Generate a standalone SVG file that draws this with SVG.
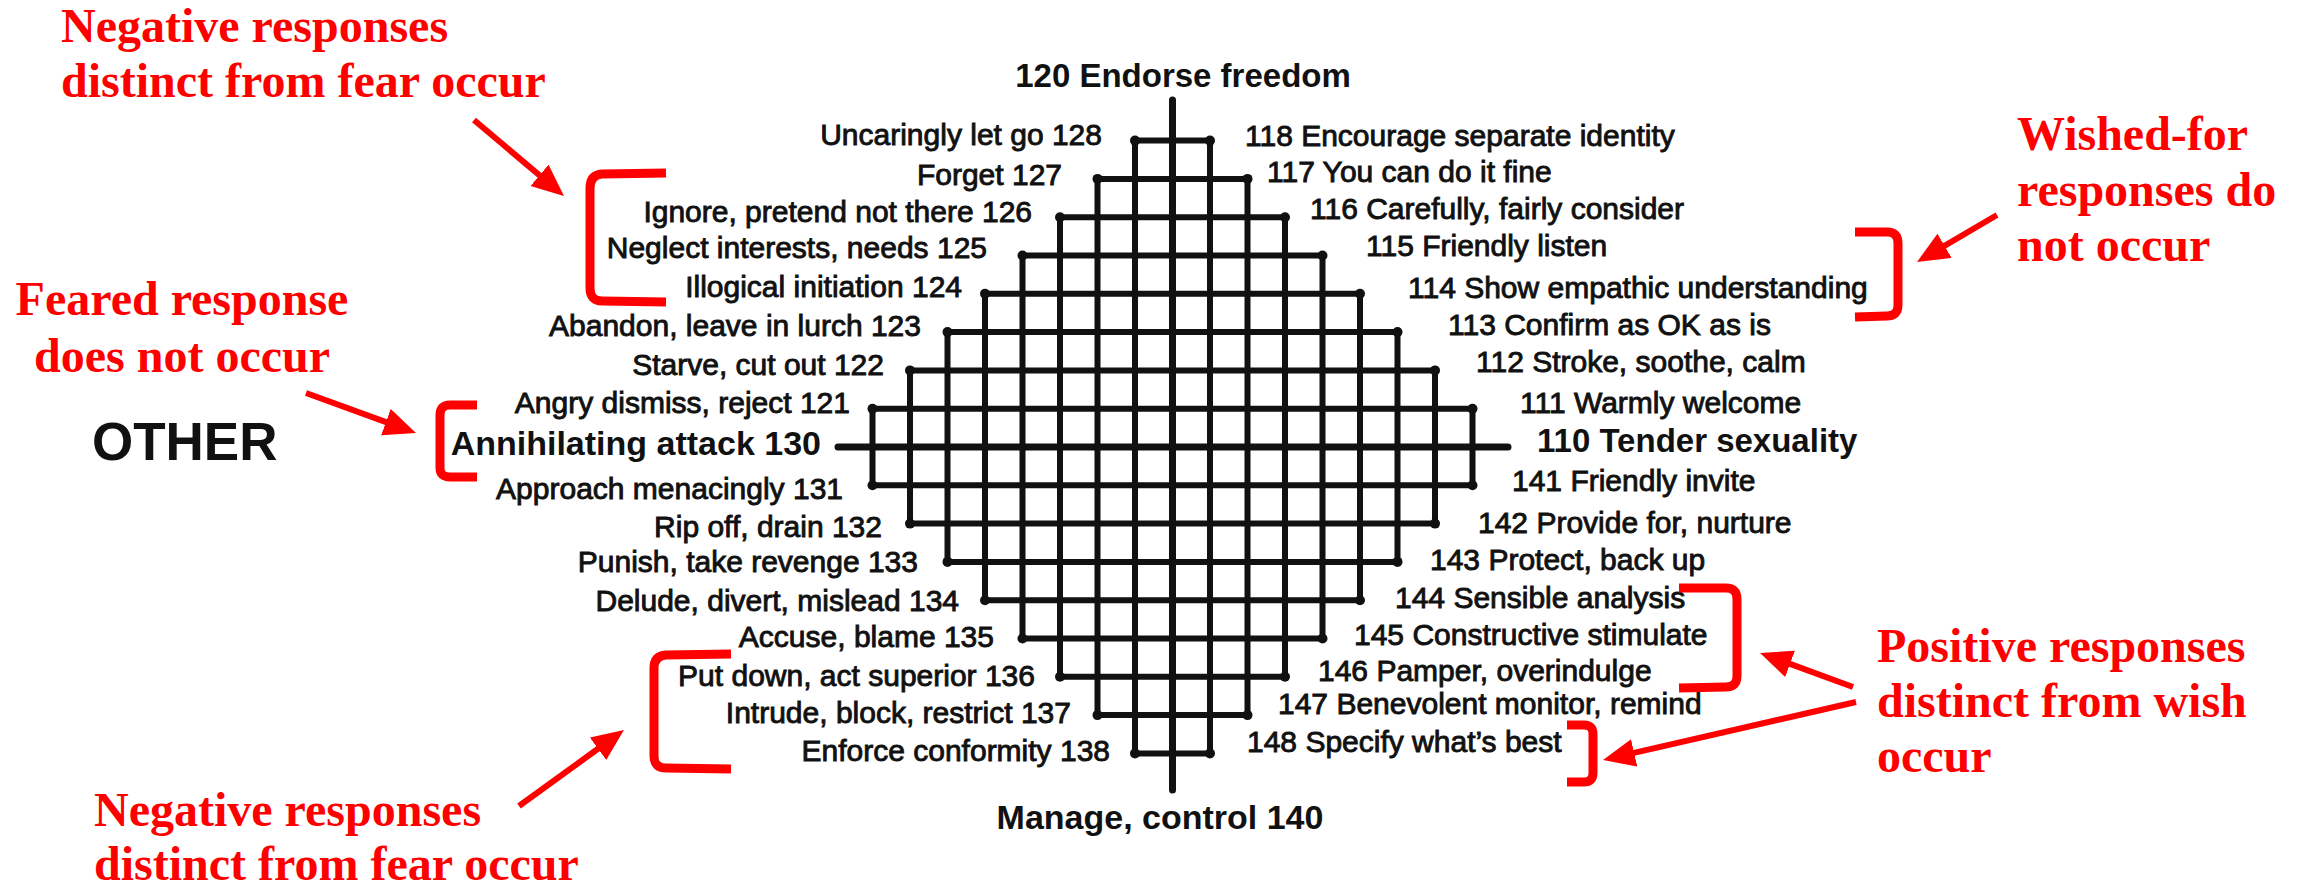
<svg xmlns="http://www.w3.org/2000/svg" width="2303" height="888" viewBox="0 0 2303 888">
<defs>
<style>
.lbl{font-family:"Liberation Sans",Arial,sans-serif;font-size:30px;fill:#111;stroke:#111;stroke-width:0.9px}
.big{font-family:"Liberation Sans",Arial,sans-serif;font-size:33px;font-weight:bold;fill:#111}
.l{text-anchor:end}
.note{font-family:"Liberation Serif","Times New Roman",serif;font-size:48px;font-weight:bold;fill:#ff0000}
.grid{fill:none;stroke:#111;stroke-width:6;stroke-linecap:round}
.axis{fill:none;stroke:#111;stroke-width:7;stroke-linecap:round}
.br{fill:none;stroke:#ff0000;stroke-width:9;stroke-linejoin:round}
.arr{stroke:#ff0000;stroke-width:6;fill:none;marker-end:url(#ah)}
</style>
<marker id="ah" markerUnits="userSpaceOnUse" markerWidth="34" markerHeight="30" refX="17" refY="14" orient="auto">
<path d="M0,0 L32,14 L0,28 Z" fill="#ff0000"/>
</marker>
</defs>
<rect width="2303" height="888" fill="#ffffff"/>

<g id="grid">
<path class="grid" d="M1135,140.6H1210 M1097.5,178.9H1247.5 M1060,217.2H1285 M1022.5,255.5H1322.5 M985,293.8H1360 M947.5,332.1H1397.5 M910,370.4H1435 M872.5,408.7H1472.5 M872.5,485.3H1472.5 M910,523.6H1435 M947.5,561.9H1397.5 M985,600.2H1360 M1022.5,638.5H1322.5 M1060,676.8H1285 M1097.5,715.1H1247.5 M1135,753.4H1210
M1135,140.6V753.4 M1210,140.6V753.4 M1097.5,178.9V715.1 M1247.5,178.9V715.1 M1060,217.2V676.8 M1285,217.2V676.8 M1022.5,255.5V638.5 M1322.5,255.5V638.5 M985,293.8V600.2 M1360,293.8V600.2 M947.5,332.1V561.9 M1397.5,332.1V561.9 M910,370.4V523.6 M1435,370.4V523.6 M872.5,408.7V485.3 M1472.5,408.7V485.3"/>
<path class="axis" d="M1172.5,100V790 M838,447H1508"/>
<g fill="#111">
<circle cx="1135" cy="140.6" r="5"/><circle cx="1210" cy="140.6" r="5"/>
<circle cx="1097.5" cy="178.9" r="5"/><circle cx="1247.5" cy="178.9" r="5"/>
<circle cx="1060" cy="217.2" r="5"/><circle cx="1285" cy="217.2" r="5"/>
<circle cx="1022.5" cy="255.5" r="5"/><circle cx="1322.5" cy="255.5" r="5"/>
<circle cx="985" cy="293.8" r="5"/><circle cx="1360" cy="293.8" r="5"/>
<circle cx="947.5" cy="332.1" r="5"/><circle cx="1397.5" cy="332.1" r="5"/>
<circle cx="910" cy="370.4" r="5"/><circle cx="1435" cy="370.4" r="5"/>
<circle cx="872.5" cy="408.7" r="5"/><circle cx="1472.5" cy="408.7" r="5"/>
<circle cx="872.5" cy="485.3" r="5"/><circle cx="1472.5" cy="485.3" r="5"/>
<circle cx="910" cy="523.6" r="5"/><circle cx="1435" cy="523.6" r="5"/>
<circle cx="947.5" cy="561.9" r="5"/><circle cx="1397.5" cy="561.9" r="5"/>
<circle cx="985" cy="600.2" r="5"/><circle cx="1360" cy="600.2" r="5"/>
<circle cx="1022.5" cy="638.5" r="5"/><circle cx="1322.5" cy="638.5" r="5"/>
<circle cx="1060" cy="676.8" r="5"/><circle cx="1285" cy="676.8" r="5"/>
<circle cx="1097.5" cy="715.1" r="5"/><circle cx="1247.5" cy="715.1" r="5"/>
<circle cx="1135" cy="753.4" r="5"/><circle cx="1210" cy="753.4" r="5"/>
</g>
</g>

<g id="axis-labels">
<g id="n120"><text class="big" x="1183" y="87" text-anchor="middle">120 Endorse freedom</text></g>
<g id="n140"><text class="big" x="1160" y="829" text-anchor="middle" style="font-size:34px">Manage, control 140</text></g>
<g id="n130"><text class="big l" x="821" y="455" style="font-size:34px">Annihilating attack 130</text></g>
<g id="n110"><text class="big" x="1537" y="452">110 Tender sexuality</text></g>
<g id="other"><text x="92" y="460" style="font-family:'Liberation Sans',Arial,sans-serif;font-size:53px;font-weight:bold;fill:#111">OTHER</text></g>
</g>

<g id="left-labels">
<g id="n128"><text class="lbl l" x="1102" y="145">Uncaringly let go 128</text></g>
<g id="n127"><text class="lbl l" x="1062" y="185">Forget 127</text></g>
<g id="n126"><text class="lbl l" x="1032" y="222">Ignore, pretend not there 126</text></g>
<g id="n125"><text class="lbl l" x="987" y="258">Neglect interests, needs 125</text></g>
<g id="n124"><text class="lbl l" x="962" y="297">Illogical initiation 124</text></g>
<g id="n123"><text class="lbl l" x="921" y="336">Abandon, leave in lurch 123</text></g>
<g id="n122"><text class="lbl l" x="884" y="375">Starve, cut out 122</text></g>
<g id="n121"><text class="lbl l" x="850" y="413">Angry dismiss, reject 121</text></g>
<g id="n131"><text class="lbl l" x="843" y="499">Approach menacingly 131</text></g>
<g id="n132"><text class="lbl l" x="882" y="537">Rip off, drain 132</text></g>
<g id="n133"><text class="lbl l" x="918" y="572">Punish, take revenge 133</text></g>
<g id="n134"><text class="lbl l" x="959" y="611">Delude, divert, mislead 134</text></g>
<g id="n135"><text class="lbl l" x="994" y="647">Accuse, blame 135</text></g>
<g id="n136"><text class="lbl l" x="1035" y="686">Put down, act superior 136</text></g>
<g id="n137"><text class="lbl l" x="1071" y="723">Intrude, block, restrict 137</text></g>
<g id="n138"><text class="lbl l" x="1110" y="761">Enforce conformity 138</text></g>
</g>

<g id="right-labels">
<g id="n118"><text class="lbl" x="1245" y="146">118 Encourage separate identity</text></g>
<g id="n117"><text class="lbl" x="1267" y="182">117 You can do it fine</text></g>
<g id="n116"><text class="lbl" x="1310" y="219">116 Carefully, fairly consider</text></g>
<g id="n115"><text class="lbl" x="1366" y="256">115 Friendly listen</text></g>
<g id="n114"><text class="lbl" x="1408" y="298">114 Show empathic understanding</text></g>
<g id="n113"><text class="lbl" x="1448" y="335">113 Confirm as OK as is</text></g>
<g id="n112"><text class="lbl" x="1476" y="372">112 Stroke, soothe, calm</text></g>
<g id="n111"><text class="lbl" x="1520" y="413">111 Warmly welcome</text></g>
<g id="n141"><text class="lbl" x="1512" y="491">141 Friendly invite</text></g>
<g id="n142"><text class="lbl" x="1478" y="533">142 Provide for, nurture</text></g>
<g id="n143"><text class="lbl" x="1430" y="570">143 Protect, back up</text></g>
<g id="n144"><text class="lbl" x="1395" y="608">144 Sensible analysis</text></g>
<g id="n145"><text class="lbl" x="1354" y="645">145 Constructive stimulate</text></g>
<g id="n146"><text class="lbl" x="1318" y="681">146 Pamper, overindulge</text></g>
<g id="n147"><text class="lbl" x="1278" y="714">147 Benevolent monitor, remind</text></g>
<g id="n148"><text class="lbl" x="1247" y="752">148 Specify what’s best</text></g>
</g>

<g id="annotations">
<g id="note-neg-top"><text class="note" x="61" y="42">Negative responses</text><text class="note" x="61" y="97">distinct from fear occur</text></g>
<g id="note-feared"><text class="note" x="182" y="315" text-anchor="middle">Feared response</text><text class="note" x="182" y="372" text-anchor="middle">does not occur</text></g>
<g id="note-wished"><text class="note" x="2017" y="150">Wished-for</text><text class="note" x="2017" y="206">responses do</text><text class="note" x="2017" y="261">not occur</text></g>
<g id="note-pos"><text class="note" x="1877" y="662">Positive responses</text><text class="note" x="1877" y="717">distinct from wish</text><text class="note" x="1877" y="772">occur</text></g>
<g id="note-neg-bottom"><text class="note" x="94" y="826">Negative responses</text><text class="note" x="94" y="880">distinct from fear occur</text></g>
</g>

<g id="brackets">
<path class="br" d="M666,173 L602,174 Q590,175 590,188 L590,288 Q590,301 602,301 L666,302"/>
<path class="br" d="M477,405 L450,405 Q440,405 440,415 L440,468 Q440,477 450,477 L477,477"/>
<path class="br" d="M731,654 L666,655 Q654,656 654,668 L654,756 Q654,768 666,768 L731,769"/>
<path class="br" d="M1855,232 L1887,232 Q1898,232 1898,243 L1898,305 Q1898,316 1887,316 L1855,317"/>
<path class="br" d="M1679,588 L1726,588 Q1737,588 1737,599 L1737,676 Q1737,687 1726,687 L1679,688"/>
<path class="br" d="M1567,725 L1584,725 Q1593,725 1593,734 L1593,773 Q1593,782 1584,782 L1567,782"/>
</g>

<g id="connectors">
<line class="arr" x1="474" y1="120" x2="552.5" y2="186.3"/>
<line class="arr" x1="306" y1="393" x2="401.9" y2="427.9"/>
<line class="arr" x1="519" y1="806" x2="611.8" y2="738.8"/>
<line class="arr" x1="1997" y1="215" x2="1929.9" y2="254.4"/>
<line class="arr" x1="1853" y1="687" x2="1774.1" y2="658.1"/>
<line class="arr" x1="1856" y1="702" x2="1617.6" y2="756.7"/>
</g>
</svg>
